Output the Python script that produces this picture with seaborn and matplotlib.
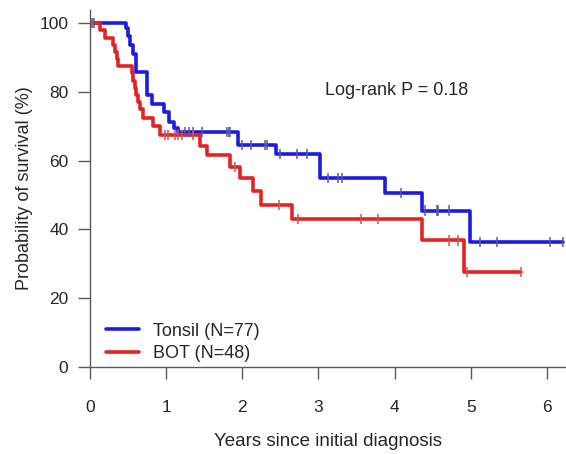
import numpy as np
import pandas as pd
import matplotlib
matplotlib.use("Agg")
import matplotlib.pyplot as plt
import seaborn as sns

# ---- data ----
groups = ["Tonsil (N=77)", "BOT (N=48)"]
colors = ["#1c1ce0", "#e52222"]
censor_colors = ["#5858a8", "#c05a5a"]

tonsil_time = [0, 0.47, 0.50, 0.53, 0.56, 0.60, 0.75, 0.81, 0.97, 1.04, 1.10, 1.15,
               1.94, 2.44, 3.02, 3.87, 4.36, 4.99, 6.21]
tonsil_surv = [100, 98.7, 96.1, 93.5, 90.9, 85.7, 79.2, 76.6, 74.0, 71.2, 69.5, 68.3,
               64.5, 62.0, 55.0, 50.5, 45.5, 36.4, 36.4]
tonsil_censor = [0.02, 0.05, 1.25, 1.30, 1.35, 1.47, 1.80, 1.82, 1.84, 2.00, 2.12, 2.30,
                 2.33, 2.49, 2.72, 2.85, 3.12, 3.25, 3.31, 4.09, 4.40, 4.55, 4.57, 4.71,
                 5.12, 5.34, 6.04, 6.21]

bot_time = [0, 0.13, 0.20, 0.30, 0.33, 0.35, 0.37, 0.55, 0.57, 0.59, 0.61, 0.63, 0.66,
            0.70, 0.83, 0.92, 1.45, 1.54, 1.84, 1.97, 2.14, 2.25, 2.65, 4.36, 4.91, 5.66]
bot_surv = [100, 97.9, 95.8, 93.7, 91.6, 89.5, 87.5, 85.4, 83.3, 81.2, 79.1, 77.0, 75.0,
            72.5, 70.0, 67.5, 64.3, 61.5, 58.2, 55.0, 51.2, 47.2, 43.1, 36.8, 27.6, 27.6]
bot_censor = [0.03, 0.98, 1.02, 1.12, 1.15, 1.21, 1.35, 1.90, 2.48, 2.73, 3.56, 3.78,
              4.71, 4.83, 4.95, 5.66]

pvalue_text = "Log-rank P = 0.18"
x_ticks = [0, 1, 2, 3, 4, 5, 6]
y_ticks = [0, 20, 40, 60, 80, 100]
x_label = "Years since initial diagnosis"
y_label = "Probability of survival (%)"


def step_value(times, survs, t):
    i = np.searchsorted(times, t, side="right") - 1
    return survs[max(i, 0)]


curves = pd.concat([
    pd.DataFrame({"time": tonsil_time, "surv": tonsil_surv, "group": groups[0]}),
    pd.DataFrame({"time": bot_time, "surv": bot_surv, "group": groups[1]}),
], ignore_index=True)

cens = pd.concat([
    pd.DataFrame({"time": tonsil_censor,
                  "surv": [step_value(tonsil_time, tonsil_surv, c) for c in tonsil_censor],
                  "group": groups[0]}),
    pd.DataFrame({"time": bot_censor,
                  "surv": [step_value(bot_time, bot_surv, c) for c in bot_censor],
                  "group": groups[1]}),
], ignore_index=True)

sns.set_theme(style="white")
plt.rcParams["font.family"] = ["Liberation Sans", "DejaVu Sans"]
text_color = "#262626"
axis_color = "#5a5a5a"

fig = plt.figure(figsize=(5.66, 4.54), dpi=100)
ax = fig.add_axes([90 / 566, 1 - 367 / 454, 1 - 90 / 566, 357 / 454])

palette = dict(zip(groups, colors))
cpalette = dict(zip(groups, censor_colors))
sns.lineplot(data=curves, x="time", y="surv", hue="group", hue_order=groups,
             palette=palette, estimator=None, sort=False, drawstyle="steps-post",
             linewidth=2.6, ax=ax)
sns.scatterplot(data=cens, x="time", y="surv", hue="group", hue_order=groups,
                palette=cpalette, marker="|", s=55, linewidth=1.1, legend=False,
                ax=ax, zorder=3, clip_on=False)

ax.set_xlim(0, 6.25)
ax.set_ylim(0, 103.8)
ax.set_xticks(x_ticks)
ax.set_yticks(y_ticks)
for side in ["top", "right"]:
    ax.spines[side].set_visible(False)
for side in ["left", "bottom"]:
    ax.spines[side].set_color(axis_color)
    ax.spines[side].set_linewidth(1.0)
ax.tick_params(axis="both", which="major", bottom=True, left=True, direction="out",
               length=8.5, width=1.0, color=axis_color,
               labelsize=12.5, labelcolor=text_color)
ax.tick_params(axis="x", pad=15)
ax.tick_params(axis="y", pad=7)

ax.set_xlabel(x_label, fontsize=13.5, color=text_color, labelpad=13)
ax.set_ylabel(y_label, fontsize=13, color=text_color, labelpad=5)

ax.text(3.08, 80.5, pvalue_text, fontsize=13, color=text_color, ha="left", va="center")

handles, labels = ax.get_legend_handles_labels()
ax.legend(handles, labels, frameon=False, loc="lower left",
          bbox_to_anchor=(106 / 566, 1 - 362 / 454), bbox_transform=fig.transFigure,
          fontsize=13, handlelength=1.8, handletextpad=0.8, labelspacing=0.3,
          borderpad=0, borderaxespad=0, labelcolor=text_color)

fig.savefig("out.png", dpi=100)
